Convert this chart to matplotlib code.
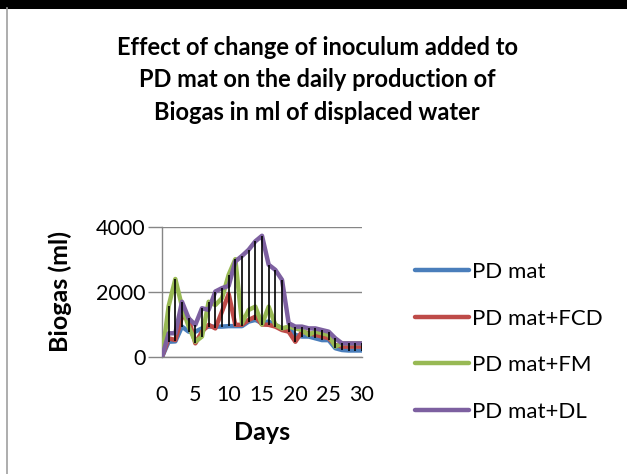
import matplotlib.pyplot as plt
import numpy as np
from matplotlib.lines import Line2D

days = np.arange(0, 31)

pd_mat = [0, 470, 480, 935, 780, 780, 880, 935, 935, 935, 950, 950, 950, 1090, 1140,
          1050, 1090, 990, 880, 880, 680, 630, 630, 575, 520, 520, 270, 215, 200, 200, 200]
pd_fcd = [0, 575, 520, 1240, 1190, 420, 780, 990, 880, 1400, 1940, 990, 990, 1140, 1240,
          1000, 990, 935, 830, 780, 470, 780, 730, 680, 630, 575, 370, 320, 320, 320, 320]
pd_fm = [0, 1570, 2400, 1550, 935, 470, 630, 1700, 1600, 1810, 2530, 3010, 1040, 1450, 1550,
         1000, 1550, 990, 880, 935, 880, 830, 680, 780, 730, 680, 320, 420, 420, 420, 420]
pd_dl = [0, 730, 730, 1700, 1190, 990, 1500, 1450, 2015, 2120, 2190, 2940, 3110, 3300, 3560,
         3730, 2840, 2680, 2375, 1040, 935, 935, 880, 880, 830, 780, 575, 420, 420, 420, 420]

labels = ["PD mat", "PD mat+FCD", "PD mat+FM", "PD mat+DL"]
colors = ["#4A7EBB", "#BE4B48", "#98B954", "#7D60A0"]

plt.rcParams["font.family"] = ["Lato", "DejaVu Sans"]

fig = plt.figure(figsize=(6.27, 4.74), dpi=100)
ax = fig.add_axes([162 / 627, 1 - 357 / 474, 200 / 627, 130 / 474])

series = [pd_mat, pd_fcd, pd_fm, pd_dl]
for vals, lab, col in zip(series, labels, colors):
    ax.plot(days, vals, color=col, lw=3.2, label=lab,
            solid_capstyle="round", solid_joinstyle="round", zorder=3)

# high-low lines
arr = np.array(series)
ax.vlines(days, arr.min(axis=0), arr.max(axis=0), color="black", lw=1.2, zorder=4)

ax.set_xlim(0, 30)
ax.set_ylim(0, 4000)
ax.set_xticks(np.arange(0, 31, 5))
ax.set_yticks([0, 2000, 4000])
ax.tick_params(axis="x", length=0, labelsize=15.5, pad=20)
ax.tick_params(axis="y", length=10, width=1, color="#868686", labelsize=15.5, pad=2)
ax.grid(axis="y", color="#868686", lw=1)
ax.set_axisbelow(True)
for s in ["top", "right"]:
    ax.spines[s].set_visible(False)
for s in ["left", "bottom"]:
    ax.spines[s].set_color("#868686")
    ax.spines[s].set_linewidth(1)

ax.set_xlabel("Days", fontsize=18, fontweight="bold", labelpad=12)
ax.set_ylabel("Biogas (ml)", fontsize=18, fontweight="bold", labelpad=17)

fig.text(317 / 627, 1 - 80 / 474,
         "Effect of change of inoculum added to\nPD mat on the daily production of\nBiogas in ml of displaced water",
         ha="center", va="center", fontsize=17, fontweight="bold", linespacing=1.5)

handles = [Line2D([], [], color=c, lw=3.2, solid_capstyle="round") for c in colors]
fig.legend(handles, labels, loc="upper left", bbox_to_anchor=(406 / 627, 1 - 253 / 474),
           frameon=False, fontsize=16, handlelength=2.45, handletextpad=0.1,
           labelspacing=1.2, borderaxespad=0)

# page frame bits
fig.add_artist(Line2D([0, 1], [1 - 4 / 474, 1 - 4 / 474], color="black", lw=6.5))
fig.add_artist(Line2D([7 / 627, 7 / 627], [0, 1 - 8 / 474], color="#A0A0A0", lw=1.2))

fig.savefig("out.png", dpi=100)
